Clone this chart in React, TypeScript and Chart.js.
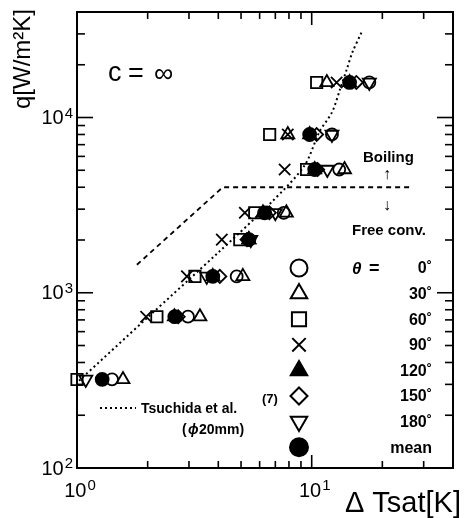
import React, { useEffect, useRef } from 'react';
import { Chart, registerables } from 'chart.js';
import { drawPoint } from 'chart.js/helpers';

Chart.register(...registerables);

// q levels (W/m^2K) for each measured row
const qLevels = [320, 730, 1240, 2010, 2860, 5050, 8000, 15850];

// ΔTsat values per inclination angle (null = hidden / not visible)
const dT0 = [1.41, 2.97, 4.79, 5.4, 7.6, 13.1, 12.2, 17.6];
const dT30 = [1.57, 3.34, 5.09, 5.4, 7.8, 13.8, 7.91, 11.6];
const dT60 = [1.0, 2.19, 3.18, 4.94, 5.72, 9.51, 6.62, 10.5];
const dT90 = [null, 1.97, 2.94, 4.14, 5.19, 7.67, 7.91, 12.77];
const dT120 = [null, 2.6, 3.79, 5.4, 6.2, 10.3, 9.8, 14.5];
const dT150 = [null, 2.7, 4.06, 5.3, 6.6, 10.6, 10.5, 15.5];
const dT180 = [1.09, null, 3.57, 5.5, 7.0, 11.66, 12.2, 17.6];
const dTmean = [1.28, 2.61, 3.79, 5.4, 6.3, 10.3, 9.8, 14.5];

// Tsuchida et al. correlation (dotted)
const tsuchidaX = [1.02, 2.0, 4.0, 6.76, 9.3, 10.8, 12.2, 13.2, 14.1, 14.9, 16.3];
const tsuchidaY = [315, 723, 1697, 3300, 5300, 8300, 10700, 14450, 18800, 23500, 30600];

// Boiling / free convection boundary (dashed)
const boundaryX = [1.8, 4.18, 26.6];
const boundaryY = [1445, 4000, 4000];

// axis ticks
const xMajor = [1, 10];
const xMinor = [2, 3, 4, 5, 6, 7, 8, 9, 20, 30];
const xTickExp = ['0', '1'];
const yMajor = [100, 1000, 10000];
const yMinor = [200, 300, 400, 500, 600, 700, 800, 900, 2000, 3000, 4000, 5000, 6000, 7000, 8000, 9000, 20000, 30000];
const yTickExp = ['2', '3', '4'];

const legendLabels = ['0˚', '30˚', '60˚', '90˚', '120˚', '150˚', '180˚', 'mean'];

const FONT = '"Liberation Sans", Arial, sans-serif';

type Style = { label: string; style: string; rot: number; filled: boolean; r: number; lr: number };
const styles: Style[] = [
  { label: '0', style: 'circle', rot: 0, filled: false, r: 6, lr: 8.5 },
  { label: '30', style: 'triangle', rot: 0, filled: false, r: 7.5, lr: 9.5 },
  { label: '60', style: 'rect', rot: 0, filled: false, r: 8, lr: 10 },
  { label: '90', style: 'crossRot', rot: 0, filled: false, r: 8, lr: 9.5 },
  { label: '120', style: 'triangle', rot: 0, filled: true, r: 7.5, lr: 9.5 },
  { label: '150', style: 'rectRot', rot: 0, filled: false, r: 6.5, lr: 8.5 },
  { label: '180', style: 'triangle', rot: 180, filled: false, r: 7.5, lr: 9.5 },
  { label: 'mean', style: 'circle', rot: 0, filled: true, r: 6.5, lr: 9 },
];
const seriesX = [dT0, dT30, dT60, dT90, dT120, dT150, dT180, dTmean];

function pts(xs: (number | null)[], ys: number[]) {
  const out: { x: number; y: number }[] = [];
  xs.forEach((v, i) => {
    if (v !== null) out.push({ x: v, y: ys[i] });
  });
  return out;
}

function drawSup(ctx: CanvasRenderingContext2D, base: string, exp: string, x: number, y: number, align: 'right' | 'center') {
  ctx.font = `20px ${FONT}`;
  const wb = ctx.measureText(base).width;
  ctx.font = `15px ${FONT}`;
  const we = ctx.measureText(exp).width;
  const total = wb + we + 1;
  const x0 = align === 'right' ? x - total : x - total / 2;
  ctx.textAlign = 'left';
  ctx.textBaseline = 'middle';
  ctx.font = `20px ${FONT}`;
  ctx.fillText(base, x0, y);
  ctx.font = `15px ${FONT}`;
  ctx.fillText(exp, x0 + wb + 1, y - 5);
}

const decorPlugin = {
  id: 'decor',
  afterDatasetsDraw(chart: any) {
    const { ctx, chartArea, scales } = chart;
    const { left, right, top, bottom } = chartArea;
    const xs = scales.x;
    const ys = scales.y;
    ctx.save();
    ctx.strokeStyle = '#000';
    ctx.fillStyle = '#000';
    // frame
    ctx.lineWidth = 2;
    ctx.strokeRect(left, top, right - left, bottom - top);
    // ticks
    ctx.lineWidth = 1.6;
    const seg = (x1: number, y1: number, x2: number, y2: number) => {
      ctx.beginPath();
      ctx.moveTo(x1, y1);
      ctx.lineTo(x2, y2);
      ctx.stroke();
    };
    xMinor.forEach((v) => {
      const p = xs.getPixelForValue(v);
      seg(p, bottom, p, bottom - 7);
      seg(p, top, p, top + 7);
    });
    xMajor.forEach((v) => {
      const p = xs.getPixelForValue(v);
      seg(p, bottom, p, bottom - 13);
      seg(p, top, p, top + 13);
    });
    yMinor.forEach((v) => {
      const p = ys.getPixelForValue(v);
      seg(left, p, left + 8, p);
      seg(right, p, right - 8, p);
    });
    yMajor.forEach((v) => {
      const p = ys.getPixelForValue(v);
      seg(left, p, left + 16, p);
      seg(right, p, right - 16, p);
    });
    // tick labels
    xMajor.forEach((v, i) => {
      drawSup(ctx, '10', xTickExp[i], xs.getPixelForValue(v) + 3, bottom + 23, 'center');
    });
    yMajor.forEach((v, i) => {
      drawSup(ctx, '10', yTickExp[i], left - 4, ys.getPixelForValue(v) + 1, 'right');
    });
    // axis titles
    ctx.font = `24px ${FONT}`;
    ctx.textAlign = 'center';
    ctx.textBaseline = 'middle';
    ctx.save();
    ctx.translate(23, 59);
    ctx.rotate(-Math.PI / 2);
    ctx.fillText('q[W/m²K]', 0, 0);
    ctx.restore();
    ctx.textAlign = 'right';
    ctx.font = `29px ${FONT}`;
    ctx.fillText('Δ Tsat[K]', 461, 504);

    // annotations
    ctx.textAlign = 'left';
    ctx.font = `27px ${FONT}`;
    ctx.fillText('c', 108, 74);
    ctx.fillText('=', 128, 75);
    ctx.fillText('∞', 154, 75);
    ctx.font = `bold 15px ${FONT}`;
    ctx.fillText('Boiling', 363, 158);
    ctx.fillText('Free conv.', 352, 231);
    ctx.font = `bold 16px ${FONT}`;
    ctx.fillText('↑', 383, 175);
    ctx.fillText('↓', 383, 206);

    // legend
    const lx = 299;
    const ly0 = 268;
    const dy = 25.6;
    ctx.font = `italic bold 17px ${FONT}`;
    ctx.textAlign = 'left';
    ctx.fillText('θ', 352, ly0 + 1);
    ctx.font = `bold 18px ${FONT}`;
    ctx.fillText('=', 369, ly0 + 1);
    styles.forEach((s, i) => {
      const y = ly0 + i * dy;
      ctx.fillStyle = s.filled ? '#000' : 'rgba(0,0,0,0)';
      ctx.strokeStyle = '#000';
      ctx.lineWidth = 2;
      drawPoint(ctx, { pointStyle: s.style, rotation: s.rot, radius: s.lr, borderWidth: 2 }, lx, y);
      ctx.fillStyle = '#000';
      ctx.font = `bold 16px ${FONT}`;
      ctx.textAlign = 'right';
      ctx.fillText(legendLabels[i], 432, y + 1);
    });

    // Tsuchida legend
    ctx.setLineDash([2, 3]);
    ctx.lineWidth = 2;
    seg(100, 408, 136, 408);
    ctx.setLineDash([]);
    ctx.textAlign = 'left';
    ctx.font = `bold 14px ${FONT}`;
    ctx.fillText('Tsuchida et al.', 141, 409);
    ctx.font = `bold 13px ${FONT}`;
    ctx.fillText('(7)', 262, 399);
    ctx.font = `bold 14px ${FONT}`;
    ctx.fillText('(', 182, 430);
    ctx.font = `italic bold 14px ${FONT}`;
    ctx.fillText('ϕ', 188, 430);
    ctx.font = `bold 14px ${FONT}`;
    ctx.fillText('20mm)', 199, 430);
    ctx.restore();
  },
};

export default function App() {
  const ref = useRef<HTMLCanvasElement>(null);
  useEffect(() => {
    document.body.style.margin = '0';
    const canvas = ref.current!;
    const datasets: any[] = [
      {
        label: 'Tsuchida et al.',
        data: pts(tsuchidaX, tsuchidaY),
        showLine: true,
        borderColor: '#000',
        borderWidth: 2,
        borderDash: [2, 3],
        pointRadius: 0,
        fill: false,
        tension: 0.3,
      },
      {
        label: 'boundary',
        data: pts(boundaryX, boundaryY),
        showLine: true,
        borderColor: '#000',
        borderWidth: 1.8,
        borderDash: [5, 4],
        pointRadius: 0,
        fill: false,
      },
      ...styles.map((s, i) => ({
        label: s.label,
        data: pts(seriesX[i], qLevels),
        showLine: false,
        clip: false,
        pointStyle: s.style,
        rotation: s.rot,
        pointRadius: s.r,
        pointBorderWidth: 1.8,
        pointBorderColor: '#000',
        pointBackgroundColor: s.filled ? '#000' : 'rgba(0,0,0,0)',
      })),
    ];
    const chart = new Chart(canvas, {
      type: 'scatter',
      data: { datasets },
      options: {
        responsive: false,
        animation: false,
        layout: { padding: { left: 77, top: 12, right: 11, bottom: 50 } },
        plugins: { legend: { display: false }, tooltip: { enabled: false } },
        scales: {
          x: { type: 'logarithmic', min: 1, max: 40, display: false },
          y: { type: 'logarithmic', min: 100, max: 40000, display: false },
        },
      },
      plugins: [decorPlugin],
    });
    return () => chart.destroy();
  }, []);
  return <canvas ref={ref} width={464} height={518} style={{ display: 'block' }} />;
}
